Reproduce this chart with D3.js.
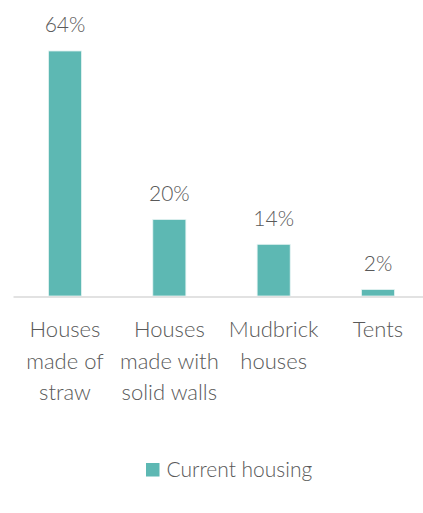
<!DOCTYPE html>
<html>
<head>
<meta charset="utf-8">
<script src="https://cdn.jsdelivr.net/npm/d3@7"></script>
<style>
  body { margin: 0; background: #fff; }
  text { font-family: "Gill Sans", "Gill Sans MT", Lato, sans-serif; font-weight: 300; fill: #595959; }
</style>
</head>
<body>
<script>
const categories = ["Houses made of straw", "Houses made with solid walls", "Mudbrick houses", "Tents"]
const labelLines = [["Houses", "made of", "straw"], ["Houses", "made with", "solid walls"], ["Mudbrick", "houses"], ["Tents"]]
const values = [64, 20, 13.5, 1.7]
const seriesName = "Current housing"

const m = { width: 423, height: 513 }
const color = "#5db8b3"

const svg = d3.select("body").append("svg")
    .attr("width", m.width)
    .attr("height", m.height)

const x = d3.scaleBand()
    .domain(categories)
    .range([13, 430])
    .paddingInner(0.683)
    .paddingOuter(0.34)

const y = d3.scaleLinear()
    .domain([0, 70])
    .range([296, 28])

// bars
svg.selectAll(".bar")
    .data(values)
    .enter()
    .append("rect")
        .attr("class", "bar")
        .attr("x", (d, i) => x(categories[i]))
        .attr("y", d => y(d))
        .attr("width", x.bandwidth())
        .attr("height", d => y(0) - y(d))
        .attr("fill", color)
        .attr("stroke", "#e6f4f3")
        .attr("stroke-width", 0.8)

// value labels
svg.selectAll(".val")
    .data(values)
    .enter()
    .append("text")
        .attr("class", "val")
        .attr("x", (d, i) => x(categories[i]) + x.bandwidth() / 2)
        .attr("y", d => y(d) - 18.5)
        .attr("text-anchor", "middle")
        .style("font-size", "21px")
        .text(d => d3.format(".0f")(d) + "%")

// x axis
const xAxis = svg.append("g")
    .attr("transform", "translate(0," + (y(0) + 0.5) + ")")
    .call(d3.axisBottom(x).tickSize(0).tickSizeOuter(0))

xAxis.select(".domain").attr("stroke", "#d9d9d9").attr("stroke-width", 1.5)
xAxis.selectAll(".tick text").remove()

xAxis.selectAll(".tick")
    .append("text")
        .attr("text-anchor", "middle")
        .style("font-size", "22px")
        .attr("fill", null)
        .each(function(d, i) {
            const t = d3.select(this)
            labelLines[i].forEach((line, j) => {
                t.append("tspan")
                    .attr("x", 0)
                    .attr("y", 40.5 + j * 31.5)
                    .text(line)
            })
        })

// legend
const legend = svg.append("g").attr("transform", "translate(146,463)")
legend.append("rect")
    .attr("width", 13.5)
    .attr("height", 13.5)
    .attr("fill", color)
legend.append("text")
    .attr("x", 20.5)
    .attr("y", 13.7)
    .style("font-size", "21px")
    .text(seriesName)
</script>
</body>
</html>
